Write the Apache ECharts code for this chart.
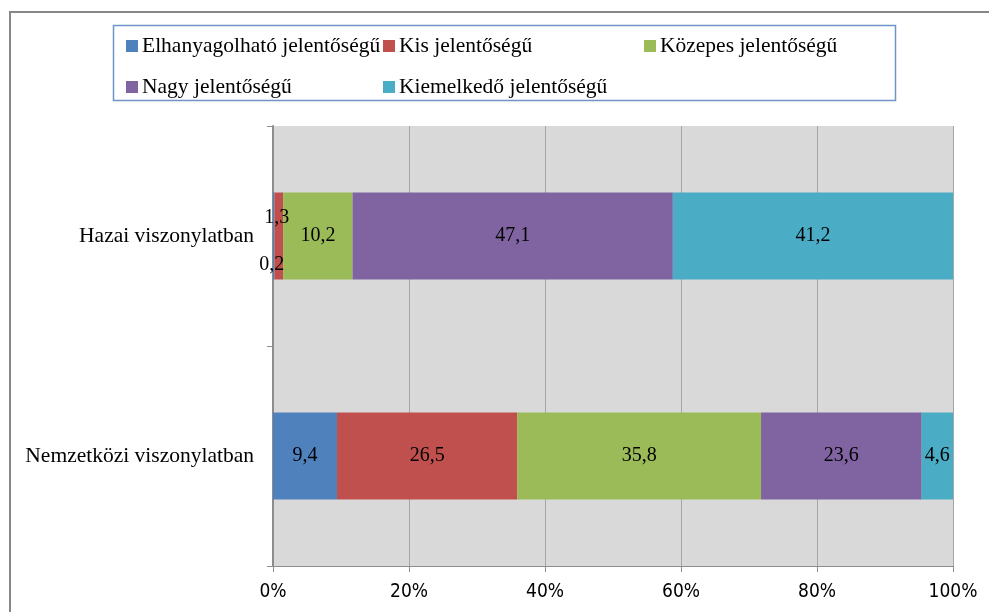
<!DOCTYPE html>
<html>
<head>
<meta charset="utf-8">
<script src="https://cdn.jsdelivr.net/npm/echarts@6/dist/echarts.min.js"></script>
<style>
  html, body { margin: 0; padding: 0; background: #fff; }
  #chart { width: 989px; height: 612px; }
</style>
</head>
<body>
<div id="chart"></div>
<script>
// Categories (top to bottom)
const categories = ['Hazai viszonylatban', 'Nemzetközi viszonylatban'];

// Series names and their values per category
const seriesNames = ['Elhanyagolható jelentőségű', 'Kis jelentőségű', 'Közepes jelentőségű', 'Nagy jelentőségű', 'Kiemelkedő jelentőségű'];
const elhanyagolhato = [0.2, 9.4];
const kis = [1.3, 26.5];
const kozepes = [10.2, 35.8];
const nagy = [47.1, 23.6];
const kiemelkedo = [41.2, 4.6];

// X axis tick labels
const xTicks = ['0%', '20%', '40%', '60%', '80%', '100%'];

const values = [elhanyagolhato, kis, kozepes, nagy, kiemelkedo];
const colors = ['#4f81bd', '#c0504d', '#9bbb59', '#8064a2', '#4bacc6'];

// Row totals for 100% stacking
const totals = categories.map((_, i) => values.reduce((s, arr) => s + arr[i], 0));

// Small segments whose labels are nudged off the bar so they stay readable
const labelNudge = { '0-0': [-2, 29], '1-0': [-2, -18] };

const serif = '"Liberation Serif", "DejaVu Serif", serif';
const narrow = '"Liberation Sans Narrow", "DejaVu Sans Condensed", sans-serif';

const series = seriesNames.map((name, s) => ({
  name: name,
  type: 'bar',
  stack: 'total',
  barWidth: 87,
  itemStyle: { color: colors[s] },
  label: {
    show: true,
    position: 'inside',
    color: '#000',
    fontFamily: serif,
    fontSize: 20,
    formatter: p => String(values[s][p.dataIndex]).replace('.', ',')
  },
  data: values[s].map((v, i) => {
    const item = { value: v / totals[i] * 100 };
    const nudge = labelNudge[s + '-' + i];
    if (nudge) item.label = { offset: nudge };
    return item;
  })
}));

// Legend entries laid out on a three-column grid
const legendPos = [[126, 35], [383, 35], [644, 35], [126, 76], [383, 76]];
const legends = seriesNames.map((name, i) => ({
  data: [name],
  left: legendPos[i][0],
  top: legendPos[i][1],
  padding: 0,
  orient: 'horizontal',
  itemWidth: 12,
  itemHeight: 12,
  itemGap: 0,
  icon: 'rect',
  textStyle: { fontFamily: serif, fontSize: 21.5, color: '#000', padding: [0, 0, 0, -1] },
  selectedMode: false
}));

const chart = echarts.init(document.getElementById('chart'), null, { renderer: 'canvas' });
chart.setOption({
  animation: false,
  backgroundColor: '#fff',
  graphic: [
    { type: 'rect', shape: { x: 10, y: 12, width: 1000, height: 700 }, style: { fill: 'none', stroke: '#878787', lineWidth: 2 }, z: -10 },
    { type: 'rect', shape: { x: 113.5, y: 25.5, width: 782, height: 75 }, style: { fill: 'none', stroke: '#6f94c8', lineWidth: 1.5 } }
  ],
  legend: legends,
  grid: { left: 273, top: 126, right: 36, bottom: 46, backgroundColor: '#d9d9d9', show: true, borderWidth: 0 },
  xAxis: {
    type: 'value',
    min: 0,
    max: 100,
    interval: 20,
    axisLine: { show: true, lineStyle: { color: '#8c8c8c', width: 1 } },
    axisTick: { show: true, length: 6, lineStyle: { color: '#8c8c8c' } },
    splitLine: { show: true, lineStyle: { color: '#a6a6a6', width: 1 } },
    axisLabel: {
      margin: 17,
      fontFamily: narrow,
      fontSize: 19,
      color: '#000',
      formatter: v => xTicks[Math.round(v / 20)]
    }
  },
  yAxis: {
    type: 'category',
    data: categories,
    inverse: true,
    axisLine: { show: true, lineStyle: { color: '#8c8c8c', width: 2 } },
    axisTick: { show: true, length: 6, lineStyle: { color: '#8c8c8c' } },
    axisLabel: { margin: 19, fontFamily: serif, fontSize: 21.5, color: '#000' }
  },
  series: series
});
</script>
</body>
</html>
